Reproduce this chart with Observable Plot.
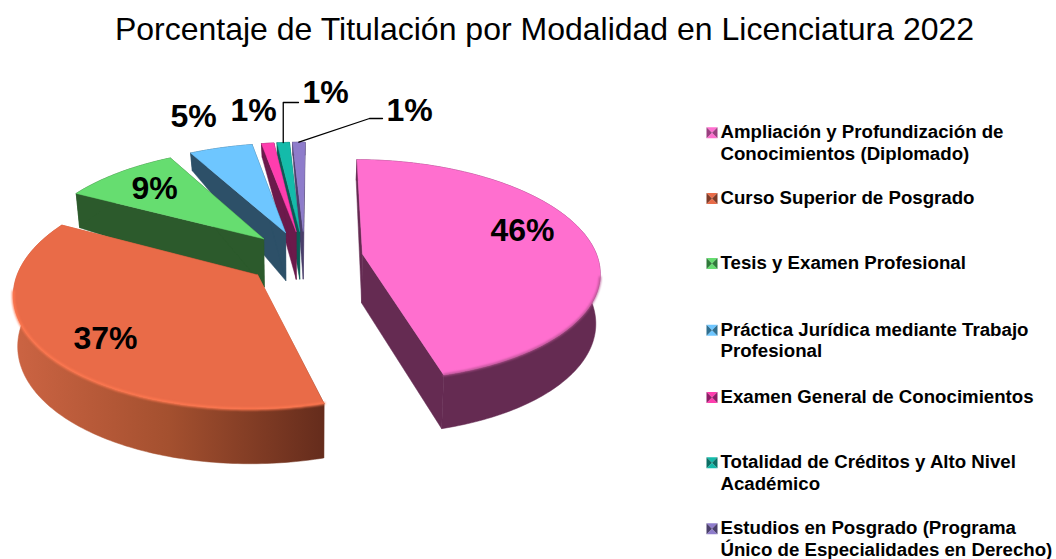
<!DOCTYPE html>
<html>
<head>
<meta charset="utf-8">
<script src="https://cdn.jsdelivr.net/npm/d3@7"></script>
<script src="https://cdn.jsdelivr.net/npm/@observablehq/plot@0.6"></script>
<style>
html,body{margin:0;padding:0;background:#fff;}
svg{display:block;}
</style>
</head>
<body>
<div id="chart"></div>
<script>
// ---- data ----
const categories = [
  "Ampliación y Profundización de\nConocimientos (Diplomado)",
  "Curso Superior de Posgrado",
  "Tesis y Examen Profesional",
  "Práctica Jurídica mediante Trabajo\nProfesional",
  "Examen General de Conocimientos",
  "Totalidad de Créditos y Alto Nivel\nAcadémico",
  "Estudios en Posgrado (Programa\nÚnico de Especialidades en Derecho)"
];
// shares estimated from the drawn angles; labels show them rounded
const percentages = [45.6, 37, 9.3, 5.1, 1, 1, 1];
const titleText = "Porcentaje de Titulación por Modalidad en Licenciatura 2022";
const topColors = ["#FF6FCF", "#E96B48", "#66DD70", "#6EC6FF", "#FF3DAE", "#14BBAA", "#8E7CCB"];
const wallColors = ["#652B52", "url(#orangeWall)", "#2C5A2C", "#2D5068", "#6B1A4B", "#0A5C55", "#4A3F6B"];
const swatchDark = ["#9A3F80", "#7E3A26", "#2F7A3A", "#2F6F90", "#8E1C66", "#0C6E64", "#4A3F6B"];

// ---- layout of the exploded perspective pie ----
const W = 1056, H = 559;
const cx = 304, cy = 257, R = 235, ry = 109, persp = 0.145, explode = 0.25, startDeg = 0.5;
const thickness = d3.scaleLinear([-1.25, -0.25, 1.2], [13, 48, 55]);
const rad = d => d * Math.PI / 180;

function project(X, Y, low) {
  const k = 1 / (1 - persp * Y);
  const x = cx + R * X * k, y = cy + ry * Y * k;
  return low ? {x: cx + (x - cx) * 0.985, y: y + thickness(Y)} : {x, y};
}

let acc = startDeg;
const slices = percentages.map((p, i) => {
  const a0 = acc, a1 = acc + p * 3.6;
  acc = a1;
  const mid = rad((a0 + a1) / 2);
  return {i, a0, a1, ox: explode * Math.sin(mid), oy: -explode * Math.cos(mid)};
});
const ground = (s, deg, r) => [s.ox + r * Math.sin(rad(deg)), s.oy - r * Math.cos(rad(deg))];
const arcDegs = (a, b) => { const n = Math.max(2, Math.ceil(b - a)); return d3.range(n + 1).map(j => a + (b - a) * j / n); };
const topPt = (s, deg, r) => project(...ground(s, deg, r), false);
const lowPt = (s, deg, r) => project(...ground(s, deg, r), true);

function shape(points, fill) {
  return Plot.line(points, {x: "x", y: "y", fill, stroke: fill, strokeWidth: 0.5});
}
function sliceMarks(s) {
  const arc = arcDegs(s.a0, s.a1);
  const tops = arc.map(d => topPt(s, d, 1));
  const lows = arc.map(d => lowPt(s, d, 1));
  const apex = topPt(s, s.a0, 0), apexLow = lowPt(s, s.a0, 0);
  const wall = wallColors[s.i];
  return [
    shape([apex, topPt(s, s.a0, 1), lowPt(s, s.a0, 1), apexLow, apex], wall),
    shape([apex, topPt(s, s.a1, 1), lowPt(s, s.a1, 1), apexLow, apex], wall),
    shape([...tops, ...lows.slice().reverse(), tops[0]], wall),
    shape([apex, ...tops, apex], topColors[s.i])
  ];
}
const rimGlow = (s, a, b, color, width) => Plot.line(arcDegs(a, b).map(d => topPt(s, d, 1)), {
  x: "x", y: "y", stroke: color, strokeWidth: width, imageFilter: "blur(0.8px)"
});

// drawing order: back slices first
const drawOrder = [6, 5, 4, 3, 2, 1, 0];

// gradient definition for the large orange wall
const defsMark = () => {
  const defs = d3.create("svg:defs");
  const g = defs.append("linearGradient").attr("id", "orangeWall");
  [[0, "#CC6443"], [0.5, "#A4502F"], [1, "#652C1C"]].forEach(([o, c]) =>
    g.append("stop").attr("offset", o).attr("stop-color", c));
  return defs.node();
};

// percentage labels (anchor positions are page layout)
const labelPos = [[522, 230], [105, 338], [154, 188], [193, 116], [253, 110], [325, 92], [409, 110]];
const labels = percentages.map((p, i) => ({text: Math.round(p) + "%", x: labelPos[i][0], y: labelPos[i][1]}));

// leader lines
const midDeg = s => (s.a0 + s.a1) / 2;
const tealLeader = [topPt(slices[5], midDeg(slices[5]), 1), {x: 285, y: 102}, {x: 298, y: 102}];
tealLeader[1].x = tealLeader[0].x;
const purpleLeader = [topPt(slices[6], midDeg(slices[6]), 1), {x: 369, y: 118}, {x: 382, y: 118}];

// legend
const legendX = 720, swatchSize = 11, legendLineH = 21.5;
const legendY = [141.5, 196.5, 261.5, 339, 395.5, 471.5, 537.5];
const legendRows = categories.map((c, i) => ({c, i, y: legendY[i], first: legendY[i] - (c.split("\n").length - 1) * legendLineH / 2}));
const swatchTris = legendRows.flatMap(r => {
  const x0 = legendX - 14, x1 = x0 + swatchSize, y0 = r.first - swatchSize / 2 + 1.5, y1 = y0 + swatchSize;
  const mx = (x0 + x1) / 2, my = (y0 + y1) / 2;
  return [
    {id: r.i + "a", c: topColors[r.i], p: [[x0, y0], [x1, y0], [mx, my]]},
    {id: r.i + "b", c: topColors[r.i], p: [[x0, y1], [x1, y1], [mx, my]]},
    {id: r.i + "c", c: swatchDark[r.i], p: [[x0, y0], [x0, y1], [mx, my]]},
    {id: r.i + "d", c: swatchDark[r.i], p: [[x1, y0], [x1, y1], [mx, my]]}
  ].flatMap(t => t.p.map(([x, y]) => ({id: t.id, c: t.c, x, y})));
});

const FONT = "Liberation Sans, Arial, sans-serif";
const chart = Plot.plot({
  width: W, height: H,
  margin: 0,
  style: {background: "#fff", fontFamily: FONT},
  x: {domain: [0, W], range: [0, W], axis: null},
  y: {domain: [0, H], range: [0, H], axis: null},
  color: {type: "identity"},
  marks: [
    defsMark,
    ...drawOrder.flatMap(i => sliceMarks(slices[i])),
    rimGlow(slices[0], 102, slices[0].a1, "#B3508F", 2),
    rimGlow(slices[1], slices[1].a0, 262, "#FF7850", 2.5),
    Plot.line(tealLeader, {x: "x", y: "y", stroke: "#000", strokeWidth: 1.3}),
    Plot.line(purpleLeader, {x: "x", y: "y", stroke: "#000", strokeWidth: 1.3}),
    Plot.text([titleText], {x: () => 544, y: () => 29, text: d => d, fontSize: 32, textAnchor: "middle", fill: "#000"}),
    Plot.text(labels, {x: "x", y: "y", text: "text", fontSize: 32, fontWeight: "bold", fill: "#000", textAnchor: "middle"}),
    Plot.line(swatchTris, {x: "x", y: "y", z: "id", fill: "c", stroke: "none"}),
    Plot.text(legendRows, {x: () => legendX, y: "y", text: "c", fontSize: 18.67, fontWeight: "bold", fill: "#000",
      textAnchor: "start", lineAnchor: "middle", lineHeight: legendLineH / 18.67})
  ]
});
document.getElementById("chart").appendChild(chart);
</script>
</body>
</html>
